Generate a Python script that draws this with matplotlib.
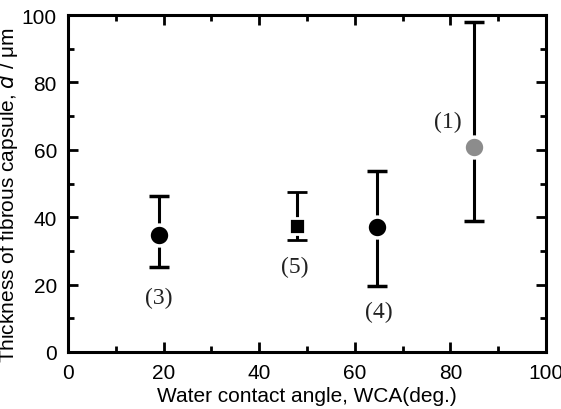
import matplotlib
matplotlib.use("Agg")
import matplotlib.pyplot as plt
from matplotlib.ticker import MultipleLocator

labels = ["(3)", "(5)", "(4)", "(1)"]
wca = [19.0, 47.9, 64.7, 85.0]
thickness = [34.7, 37.5, 37.2, 60.7]
err_low = [9.5, 4.2, 17.7, 21.7]
err_high = [11.7, 9.9, 16.6, 37.1]
markers = ["o", "s", "o", "o"]
colors = ["black", "black", "black", "#8c8c8c"]
label_pos = [(19.0, 16.3), (47.5, 25.5), (65.0, 12.0), (79.5, 68.5)]

fig = plt.figure(figsize=(5.61, 4.10), dpi=100)
ax = fig.add_axes([68/561, 1-353/410, (546-68)/561, (353-16)/410])

for i in range(len(wca)):
    ax.errorbar([wca[i]], [thickness[i]], yerr=[[err_low[i]], [err_high[i]]],
                fmt=markers[i], color="black", ecolor="black",
                markerfacecolor=colors[i], markeredgecolor="white",
                markeredgewidth=2.5 if markers[i] == "o" else 2.0,
                markersize=15 if markers[i] == "o" else 12,
                elinewidth=2.2, capsize=7.5, capthick=2.2, zorder=3)
    ax.text(label_pos[i][0], label_pos[i][1], labels[i], ha="center", va="center",
            fontsize=17, family="Liberation Serif", color="#222222")

ax.set_xlim(0, 100)
ax.set_ylim(0, 100)
ax.xaxis.set_major_locator(MultipleLocator(20))
ax.xaxis.set_minor_locator(MultipleLocator(10))
ax.yaxis.set_major_locator(MultipleLocator(20))
ax.yaxis.set_minor_locator(MultipleLocator(10))
ax.tick_params(which="both", direction="in", top=True, right=True, width=2)
ax.tick_params(which="major", length=7, labelsize=15, pad=8)
ax.tick_params(which="minor", length=4)
for lab in ax.get_xticklabels() + ax.get_yticklabels():
    lab.set_family("Liberation Sans")
for s in ax.spines.values():
    s.set_linewidth(2.2)

ax.set_xlabel("Water contact angle, WCA(deg.)", fontsize=15, family="Liberation Sans", labelpad=3)
ax.set_ylabel("Thickness of fibrous capsule, $\\it{d}$ / μm", fontsize=15, family="Liberation Sans")
ax.yaxis.set_label_coords(-0.100, 0.47)

fig.savefig("out.png", dpi=100)
